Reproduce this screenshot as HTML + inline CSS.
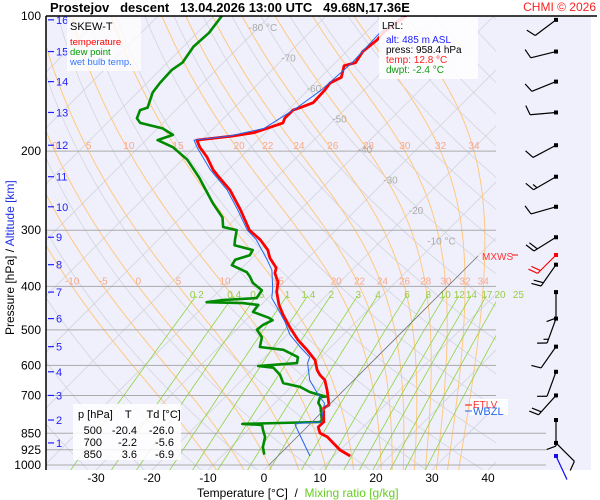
<!DOCTYPE html>
<html><head><meta charset="utf-8">
<style>
html,body{margin:0;padding:0;background:#fff;}
svg{display:block;font-family:"Liberation Sans",Arial,sans-serif;}
</style></head>
<body>
<svg id="chart" width="600" height="500" viewBox="0 0 600 500" xmlns="http://www.w3.org/2000/svg">
  <defs><clipPath id="plotClip"><rect x="46" y="16" width="450" height="454"/></clipPath></defs>
  <rect x="46" y="16" width="545" height="454" fill="#f0f0fc"/>
  <g id="grid" clip-path="url(#plotClip)"></g>
  <g id="pgrid"></g>
  <g id="labels"></g>
  <g id="profiles" clip-path="url(#plotClip)"></g>
  <g id="winds"></g>
  <line x1="46" y1="16" x2="46" y2="470" stroke="#000" stroke-width="1.5"/>
  <line x1="46" y1="16" x2="597" y2="16" stroke="#000" stroke-width="1.5"/>
  <text x="50" y="12" font-size="13" font-weight="bold" xml:space="preserve">Prostejov   descent   13.04.2026 13:00 UTC   49.68N,17.36E</text>
  <text x="596" y="11" font-size="12" fill="#ff2020" text-anchor="end">CHMI © 2026</text>
  <g id="yticks"></g>
  <g id="kmticks"></g>
  <g id="xticks"></g>
  <text transform="translate(14,335) rotate(-90)" font-size="12"><tspan fill="#000">Pressure [hPa]  /  </tspan><tspan fill="#2030e0">Altitude [km]</tspan></text>
  <text x="197" y="497" font-size="12" xml:space="preserve"><tspan fill="#000">Temperature [°C]  /  </tspan><tspan fill="#66cc22">Mixing ratio [g/kg]</tspan></text>
  <g>
    <rect x="67" y="17" width="74" height="54" fill="#fff" fill-opacity="0.75"/>
    <text x="70" y="30" font-size="11">SKEW-T</text>
    <text x="70" y="45" font-size="9.5" fill="#ff0000">temperature</text>
    <text x="70" y="55" font-size="9.5" fill="#009900">dew point</text>
    <text x="70" y="65" font-size="9.5" fill="#3377ff">wet bulb temp.</text>
  </g>
  <g>
    <rect x="379" y="17" width="99" height="62" fill="#fff" fill-opacity="0.85"/>
    <text x="382" y="29" font-size="10">LRL:</text>
    <text x="386" y="43" font-size="10" fill="#2020ff">alt: 485 m ASL</text>
    <text x="386" y="53" font-size="10">press: 958.4 hPa</text>
    <text x="386" y="63" font-size="10" fill="#ff2020">temp: 12.8 °C</text>
    <text x="386" y="73" font-size="10" fill="#119911">dwpt: -2.4 °C</text>
  </g>
  <g>
    <rect x="73" y="404" width="108" height="56" fill="#fff" fill-opacity="0.85"/>
    <text x="78" y="418" font-size="11" xml:space="preserve">p [hPa]    T     Td [°C]</text>
    <text x="102" y="434" font-size="11" text-anchor="end">500</text><text x="137" y="434" font-size="11" text-anchor="end">-20.4</text><text x="174" y="434" font-size="11" text-anchor="end">-26.0</text>
    <text x="102" y="446" font-size="11" text-anchor="end">700</text><text x="137" y="446" font-size="11" text-anchor="end">-2.2</text><text x="174" y="446" font-size="11" text-anchor="end">-5.6</text>
    <text x="102" y="458" font-size="11" text-anchor="end">850</text><text x="137" y="458" font-size="11" text-anchor="end">3.6</text><text x="174" y="458" font-size="11" text-anchor="end">-6.9</text>
  </g>
  <g>
    <line x1="478" y1="256" x2="269" y2="465" stroke="#777" stroke-width="0.8"/>
    <text x="482" y="260" font-size="10" fill="#ff3333">MXWS</text>
    <line x1="512" y1="255" x2="518" y2="255" stroke="#ff0000"/>
    <rect x="470" y="399" width="38" height="16" fill="#fff"/>
    <line x1="465" y1="405" x2="472" y2="405" stroke="#ff0000"/>
    <text x="473" y="408" font-size="10" fill="#ff3333">ETLV</text>
    <line x1="465" y1="411" x2="472" y2="411" stroke="#2266ee"/>
    <text x="473" y="415" font-size="11" fill="#2266ee">WBZL</text>
  </g>
</svg>
<script>
// ---------- data ----------
const tempP = [955,926,866,849,823,802,747,735,681,647,630,614,584,554,527,495,463,440,412,391,374,364,346,332,315,300,270,244,229,220,206,196,189,185,182,178,173,169,162,160,156,146,141,137,129,127,120,113,109,100];
const tempT = [12.9,10.0,5.4,3.4,2.0,2.1,-0.4,0.0,-3.0,-5.2,-7.0,-8.4,-10.5,-13.8,-17.1,-20.7,-24.3,-26.8,-29.5,-31.1,-33.2,-33.9,-36.8,-38.6,-41.8,-45.4,-50.7,-56.1,-60.2,-62.7,-66.1,-69.1,-70.9,-65.2,-62.1,-60.5,-58.6,-59.1,-59.1,-58.2,-56.8,-57.0,-57.3,-56.3,-57.9,-56.4,-57.1,-56.6,-56.8,-55.7];
const dewP = [948,912,866,836,814,810,802,794,742,727,706,704,688,670,657,630,607,602,593,575,554,546,519,500,488,476,470,456,440,436,434,429,425,408,393,381,372,359,349,341,332,324,315,300,295,281,261,229,209,196,189,184,178,173,169,162,160,148,141,132,127,117,109,100];
const dewT = [-2.7,-4.3,-5.7,-7.3,-8.4,-12.1,1.4,1.4,-1.2,-2.3,-3.0,-2.1,-5.7,-8.4,-12.1,-14.1,-16.6,-19.6,-13.2,-14.1,-18.0,-22.7,-24.1,-26.3,-26.1,-25.2,-26.3,-30.2,-30.5,-33.6,-40.2,-37.7,-32.0,-32.5,-35.4,-37.0,-38.4,-42.3,-42.7,-40.9,-41.3,-45.4,-46.3,-47.7,-50.7,-52.5,-56.8,-63.8,-69.1,-73.9,-77.9,-76.1,-79.1,-84.1,-85.5,-86.4,-85.5,-87.3,-87.7,-87.9,-87.3,-88.2,-87.9,-88.6];
const wbP = [955,814,808,802,729,688,647,593,575,546,513,480,448,425,404,368,349,315,300,270,244,220,196,189,185,178,160,146,127,109,100];
const wbT = [5.7,-2.5,-2.5,1.6,-1.1,-4.5,-7.9,-11.3,-12.0,-15.5,-19.5,-22.7,-26.4,-29.3,-30.9,-34.3,-37.0,-42.5,-45.8,-51.2,-56.6,-63.2,-69.6,-71.4,-65.8,-61.0,-58.8,-57.6,-57.0,-57.4,-56.3];
const pressureTicks = [100,200,300,400,500,600,700,850,925,1000];
const tempTicks = [-30,-20,-10,0,10,20,30,40];
const kmTicks = [16,15,14,13,12,11,10,9,8,7,6,5,4,3,2,1];
const kmP = [102,120,140,164,194,228,266,311,358,412,472,545,620,700,794,893];
const windDir = [233,256,248,265,242,240,254,238,215,180,200,215,200,222,180,135];
const windSpd = [10,10,10,10,10,15,10,20,20,10,15,10,10,20,10,10];
const mixRatios = [0.2,0.4,0.6,1,1.4,2,3,4,6,8,10,12,14,17,20,25];
const thetaW = [-10,-5,0,5,10,15,20,22,24,26,28,30,32,34];
const isoLabels = [-80,-70,-60,-50,-40,-30,-20,-10];

const NS = "http://www.w3.org/2000/svg";
function yP(p){ return 16 + 449*Math.log10(p/100); }
function xT(T,p){ return 264 + 5.6*T + (470 - yP(p)); }
function mk(tag, attrs, parent){ const e=document.createElementNS(NS,tag); for(const k in attrs) e.setAttribute(k,attrs[k]); parent.appendChild(e); return e; }
const grid=document.getElementById('grid'), pgrid=document.getElementById('pgrid'), labels=document.getElementById('labels');
function pathFrom(pts){ return pts.map((q,i)=>(i?'L':'M')+q[0].toFixed(1)+' '+q[1].toFixed(1)).join(''); }

for(let T=-160;T<=50;T+=10){
  const el=mk('line',{x1:xT(T,1050),y1:yP(1050),x2:xT(T,95),y2:yP(95),stroke:'#d4d4dc','stroke-width':0.8},grid);
  
  
}
for(let th=230;th<=480;th+=10){
  const pts=[]; for(let p=1050;p>=95;p-=10){ const T=th*Math.pow(p/1000,0.286)-273.15; pts.push([xT(T,p),yP(p)]); }
  const el=mk('path',{d:pathFrom(pts),fill:'none',stroke:'#d4d4dc','stroke-width':0.8},grid);
  
  
}
function dTdp(T,p){ const es=6.112*Math.exp(17.67*(T-273.15)/(T-29.65)); const rs=0.622*es/(p-es);
  return (287*T+2.501e6*rs)/(1005+2.501e6*2.501e6*rs*0.622/(287*T*T))/p; }
const maLabelPos=[];
thetaW.forEach(tw=>{
  let T=tw+273.15, p=1000; const pts=[];
  let Tb=T; for(let q=1000;q<1050;q+=2){ Tb+=dTdp(Tb,q)*2; }
  pts.push([xT(Tb-273.15,1050),yP(1050)]);
  const at={};
  while(p>95){ pts.push([xT(T-273.15,p),yP(p)]); if(p===400||p===200) at[p]=T-273.15;
    const dp=-2; const k1=dTdp(T,p); const k2=dTdp(T+k1*dp,p+dp); T+=0.5*(k1+k2)*dp; p+=dp; }
  const el=mk('path',{d:pathFrom(pts),fill:'none',stroke:'#ffc880','stroke-width':1},grid);
  
  
  maLabelPos.push([tw,at]);
});
mixRatios.forEach(w=>{
  const pts=[]; for(let p=1030;p>=420;p-=10){ const e=w*p/(622+w); const l=Math.log(e/6.112); const Td=243.5*l/(17.67-l); pts.push([xT(Td,p),yP(p)]); }
  const el=mk('path',{d:pathFrom(pts),fill:'none',stroke:'#8ed43c','stroke-width':0.8},grid);
  
  
  const e=w*418/(622+w); const l=Math.log(e/6.112); const Td=243.5*l/(17.67-l);
  const t=mk('text',{x:xT(Td,418),y:298,'font-size':10,fill:'#99cc44','text-anchor':'middle'},labels);
  t.textContent=String(w);
  
  
});
pressureTicks.forEach(p=>{
  const x2 = p>=850 ? 546 : 496;
  const el=mk('line',{x1:46,y1:yP(p),x2:x2,y2:yP(p),stroke:'#aaaaaa','stroke-width':1},pgrid);
  
  
  const t=mk('text',{x:41,y:yP(p)+4,'font-size':12,'text-anchor':'end'},document.getElementById('yticks'));
  t.textContent=String(p);
  
  
});
maLabelPos.forEach(([tw,at])=>{
  [400,200].forEach(p=>{
    if(at[p]===undefined) return;
    const x=xT(at[p],p); if(x<52||x>494) return;
    const t=mk('text',{x:x,y:yP(p)-2,'font-size':10,fill:'#f8a888','text-anchor':'middle'},labels);
    t.textContent=String(tw);
    
    
  });
});
isoLabels.forEach(T=>{
  const y=27+(T+80)*3.05; const p=100*Math.pow(10,(y-16)/449);
  const t=mk('text',{x:xT(T,p)+4,y:y+4,'font-size':10,fill:'#aaaaaa','text-anchor':'middle'},labels);
  t.textContent = (T===-80||T===-10) ? T+' °C' : String(T);
  
  
});
tempTicks.forEach(T=>{
  const t=mk('text',{x:264+5.6*T,y:482,'font-size':12,'text-anchor':'middle'},document.getElementById('xticks'));
  t.textContent=String(T);
  
  
});
kmTicks.forEach((k,i)=>{
  const y=yP(kmP[i]);
  const l=mk('line',{x1:48,y1:y,x2:54,y2:y,stroke:'#2020ff','stroke-width':1.2},document.getElementById('kmticks'));
  
  
  const t=mk('text',{x:56,y:y+4,'font-size':11,fill:'#2020ff'},document.getElementById('kmticks'));
  t.textContent=String(k);
  
  
});
const prof=document.getElementById('profiles');
function series(P,T,color,w,name){
  const pts=P.map((p,i)=>[xT(T[i],p),yP(p)]);
  const el=mk('path',{d:pathFrom(pts),fill:'none',stroke:color,'stroke-width':w,'stroke-linejoin':'round'},prof);
  
  
}
series(dewP,dewT,'#008a00',2.6,'dew-point-line');
series(tempP,tempT,'#ff0000',2.8,'temperature-line');
series(wbP,wbT,'#2266ee',1,'wet-bulb-line');

const winds=document.getElementById('winds');
function ln(g,a,b,c,d,col){ const e=mk('line',{x1:a,y1:b,x2:c,y2:d,stroke:col,'stroke-width':1.2},g); return e; }
function drawBarb(x,y,dir,spd,col,name){
  const g=mk('g',{},winds);
  
  
  const r=dir*Math.PI/180, ux=Math.sin(r), uy=-Math.cos(r);
  const L=26;
  mk('rect',{x:x-2,y:y-2,width:4,height:4,fill:col},g);
  ln(g,x,y,x+ux*L,y+uy*L,col);
  const px=uy, py=-ux;
  const fx=0.35*ux-0.94*px, fy=0.35*uy-0.94*py;
  let s=spd,k=0;
  while(s>=5){ const len=s>=10?10:5; const bx=x+ux*(L-k*4), by=y+uy*(L-k*4); ln(g,bx,by,bx+fx*len,by+fy*len,col); s-=len;k++; }
}
kmP.forEach((p,i)=>drawBarb(556,yP(p),windDir[i],windSpd[i],'#000','wind-barb'));
drawBarb(556,255,225,20,'#ff0000','max-wind-barb');
drawBarb(556,456,155,0,'#1010ee','surface-wind-barb');
</script>
</body></html>
